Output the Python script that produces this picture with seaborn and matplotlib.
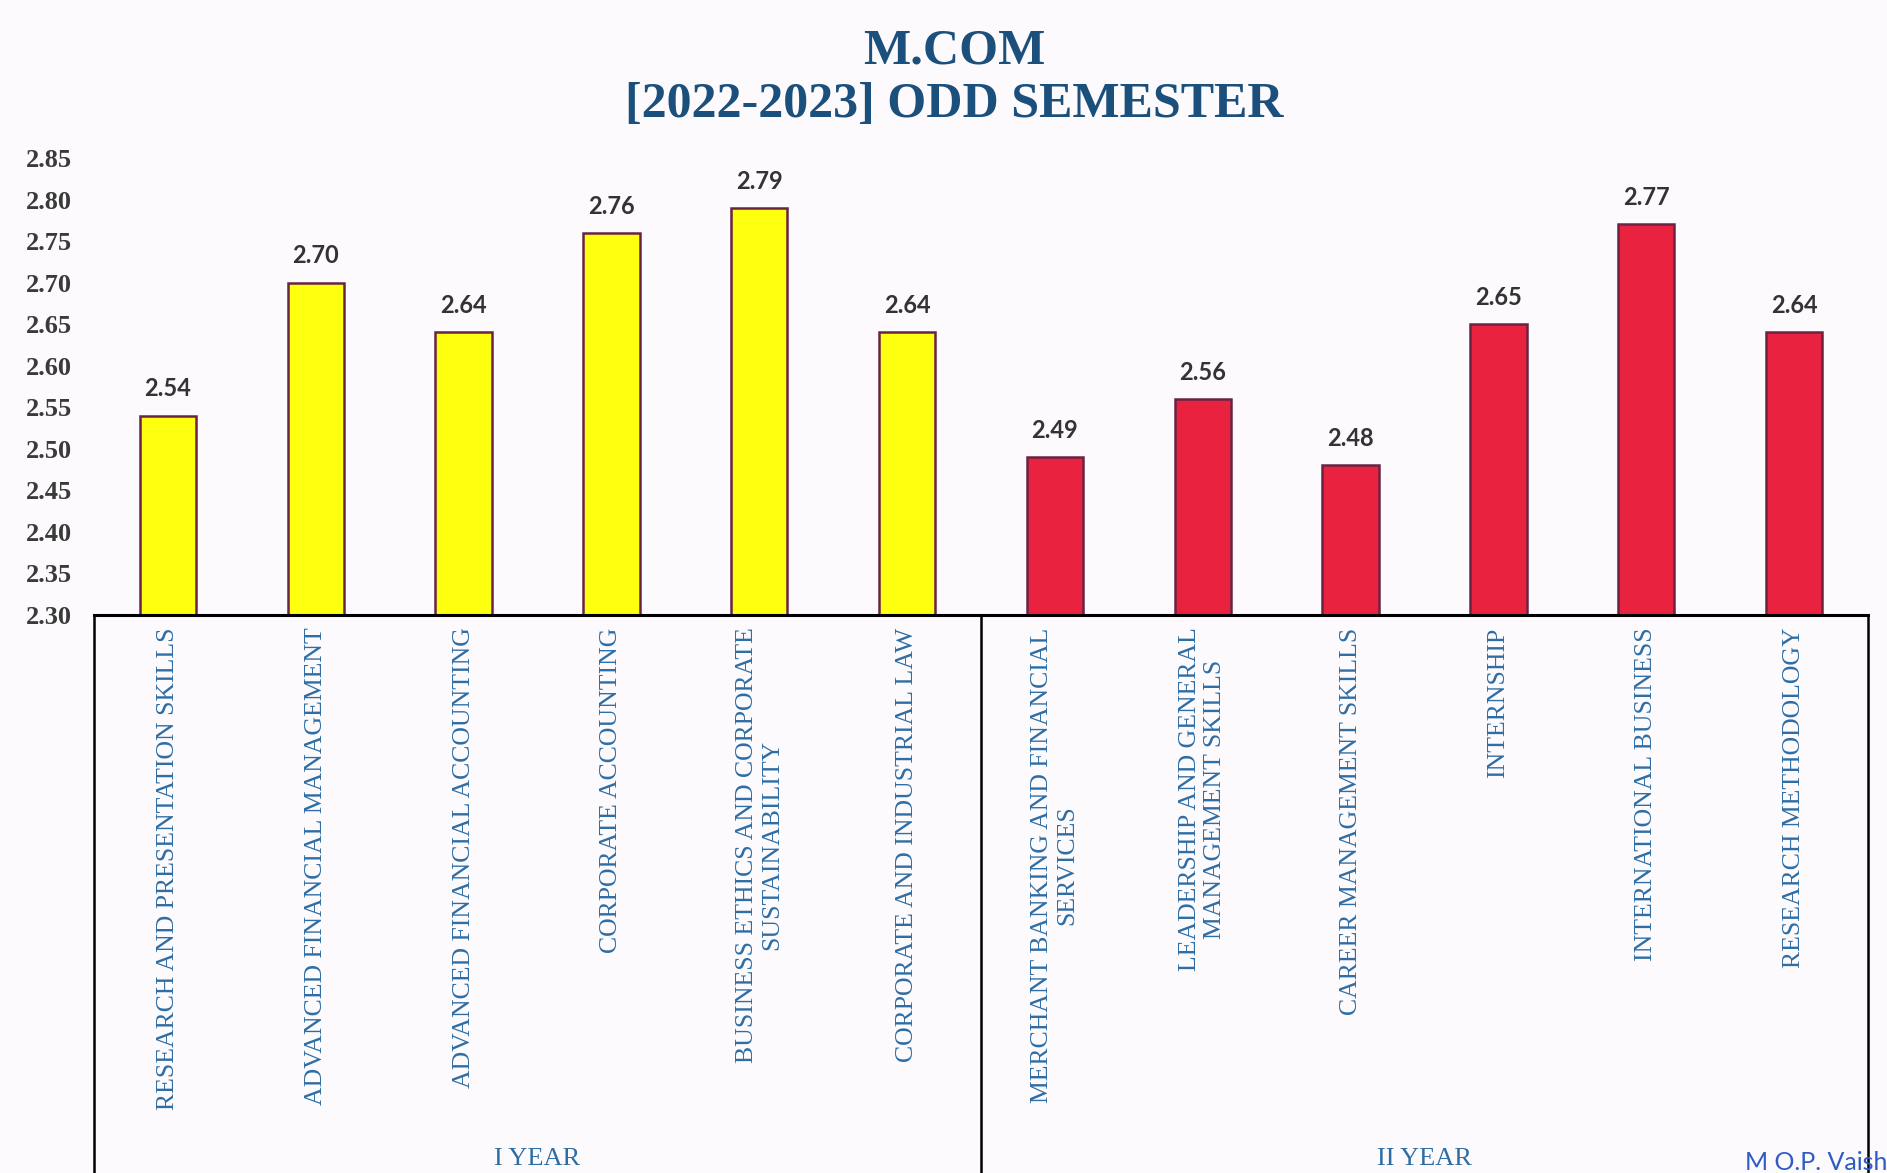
import matplotlib
matplotlib.use("Agg")
import matplotlib.pyplot as plt
import seaborn as sns
import pandas as pd

categories = [
    "RESEARCH AND PRESENTATION SKILLS",
    "ADVANCED FINANCIAL MANAGEMENT",
    "ADVANCED FINANCIAL ACCOUNTING",
    "CORPORATE ACCOUNTING",
    "BUSINESS ETHICS AND CORPORATE\nSUSTAINABILITY",
    "CORPORATE AND INDUSTRIAL LAW",
    "MERCHANT BANKING AND FINANCIAL\nSERVICES",
    "LEADERSHIP AND GENERAL\nMANAGEMENT SKILLS",
    "CAREER MANAGEMENT SKILLS",
    "INTERNSHIP",
    "INTERNATIONAL BUSINESS",
    "RESEARCH METHODOLOGY",
]
values = [2.54, 2.70, 2.64, 2.76, 2.79, 2.64, 2.49, 2.56, 2.48, 2.65, 2.77, 2.64]
years = ["I YEAR"] * 6 + ["II YEAR"] * 6
year_labels = ["I YEAR", "II YEAR"]
yticks = [2.30, 2.35, 2.40, 2.45, 2.50, 2.55, 2.60, 2.65, 2.70, 2.75, 2.80, 2.85]
title_lines = ["M.COM", "[2022-2023] ODD SEMESTER"]

df = pd.DataFrame({"subject": categories, "score": values, "year": years})

sns.set_theme(style="white")
plt.rcParams["font.family"] = ["Liberation Serif", "DejaVu Serif"]

fig = plt.figure(figsize=(18.87, 11.73), dpi=100, facecolor="#FCFAFC")
ax = fig.add_axes([94 / 1887, (1173 - 615) / 1173, (1868 - 94) / 1887, (615 - 158) / 1173])
ax.set_facecolor("none")

sns.barplot(data=df, x="subject", y="score", hue="year", order=categories,
            palette={"I YEAR": "#FFFF10", "II YEAR": "#E8223F"}, saturation=1,
            dodge=False, width=0.38, edgecolor="#6A2245", linewidth=1.8,
            legend=False, ax=ax)

ax.set_ylim(2.30, 2.85)
ax.set_xlim(-0.5, len(categories) - 0.5)
ax.set_yticks(yticks)
ax.set_yticklabels([f"{v:.2f}" for v in yticks], fontsize=19, fontweight="bold", color="#3A3A3A")
ax.tick_params(axis="y", length=0, pad=16)
ax.tick_params(axis="x", length=0, pad=9)
ax.set_xticks(range(len(categories)))
ax.set_xticklabels(categories, rotation=90, fontsize=18.5, color="#2E6DA4",
                   va="top", ha="center", multialignment="center")
ax.set_xlabel("")
ax.set_ylabel("")

for s in ["top", "right", "left"]:
    ax.spines[s].set_visible(False)
ax.spines["bottom"].set_color("black")
ax.spines["bottom"].set_linewidth(2.2)

for xv in [-0.5, 5.5, len(categories) - 0.5]:
    ax.axvline(xv, ymin=-1.4, ymax=0, color="black", lw=1.8, clip_on=False)

for i, v in enumerate(values):
    ax.annotate(f"{v:.2f}", (i, v), xytext=(0, 11), textcoords="offset points",
                ha="center", va="bottom", fontsize=17, fontweight="bold",
                color="#333333", family="Lato")

ax.text(2.5, -1.19, year_labels[0], transform=ax.get_xaxis_transform(),
        ha="center", va="center", fontsize=19, color="#2E6DA4")
ax.text(8.5, -1.19, year_labels[1], transform=ax.get_xaxis_transform(),
        ha="center", va="center", fontsize=19, color="#2E6DA4")

fig.text(954 / 1887, 1 - 51 / 1173, title_lines[0], ha="center", va="center",
         fontsize=36, fontweight="bold", color="#1B4F7C")
fig.text(954 / 1887, 1 - 105 / 1173, title_lines[1], ha="center", va="center",
         fontsize=36, fontweight="bold", color="#1B4F7C")

fig.text(1745 / 1887, 1 - 1162 / 1173, "M O.P. Vaish", ha="left", va="center",
         fontsize=18, color="#2E5BC4", family="Lato")

fig.savefig("out.png", dpi=100, facecolor=fig.get_facecolor())
